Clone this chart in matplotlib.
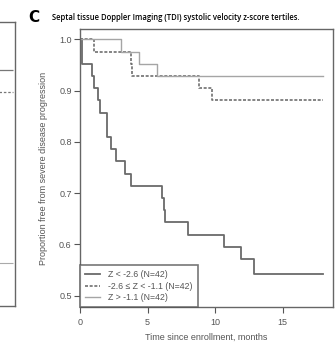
import matplotlib
matplotlib.use("Agg")
import matplotlib.pyplot as plt

# Kaplan-Meier steps (months, survival)
low_t = [0, 0.15, 0.9, 1.0, 1.33, 1.46, 1.97, 2.3, 2.64, 3.33, 3.78, 6.1, 6.2, 6.3, 8.0, 10.67, 11.9, 12.9, 18.0]
low_s = [1.0, 0.952, 0.929, 0.905, 0.881, 0.857, 0.810, 0.786, 0.762, 0.738, 0.714, 0.690, 0.667, 0.643, 0.619, 0.595, 0.571, 0.543, 0.543]

mid_t = [0, 1.06, 3.78, 3.85, 8.8, 9.75, 18.0]
mid_s = [1.0, 0.976, 0.952, 0.929, 0.905, 0.881, 0.881]

high_t = [0, 3.04, 4.37, 5.7, 18.0]
high_s = [1.0, 0.976, 0.952, 0.929, 0.929]

labels = ["Z < -2.6 (N=42)", "-2.6 \u2264 Z < -1.1 (N=42)", "Z > -1.1 (N=42)"]
x_ticks = [0, 5, 10, 15]
y_ticks = [0.5, 0.6, 0.7, 0.8, 0.9, 1.0]

# bits of the neighbouring panel B that show at the left edge
nb_levels = [0.83, 0.755, 0.15]

GREY = "#555555"
plt.rcParams["font.family"] = ["Liberation Sans", "DejaVu Sans"]

fig = plt.figure(figsize=(3.35, 3.43), dpi=100)
W, H = 335, 343

# neighbour panel strip
axn = fig.add_axes([-60 / W, 1 - 306 / H, 75 / W, (306 - 22) / H])
axn.set_xlim(0, 1)
axn.set_ylim(0, 1)
axn.hlines(nb_levels[0], 0.6, 0.97, color="#777777", lw=0.9)
axn.hlines(nb_levels[1], 0.6, 0.97, color="#777777", lw=0.9, linestyles=(0, (2, 1.5)))
axn.hlines(nb_levels[2], 0.6, 0.97, color="#aaaaaa", lw=0.8)
axn.set_xticks([])
axn.set_yticks([])
for sp in axn.spines.values():
    sp.set_color("#666666")
    sp.set_linewidth(1.0)

ax = fig.add_axes([80 / W, 1 - 307 / H, 253 / W, (307 - 29) / H])
ax.step(low_t, low_s, where="post", color="#6a6a6a", lw=1.3, label=labels[0])
ax.step(mid_t, mid_s, where="post", color="#6f6f6f", lw=1.2, ls=(0, (1.8, 1.0)), label=labels[1])
ax.step(high_t, high_s, where="post", color="#a5a5a5", lw=1.0, label=labels[2])

ax.set_xlim(0, 18.74)
ax.set_ylim(0.478, 1.02)
ax.set_xticks(x_ticks)
ax.set_yticks(y_ticks)
ax.set_yticklabels([f"{v:.1f}" for v in y_ticks])
ax.tick_params(colors=GREY, labelcolor=GREY, labelsize=6.5, length=4, width=0.8, pad=2)
ax.tick_params(axis="x", pad=4)
for sp in ax.spines.values():
    sp.set_color("#666666")
    sp.set_linewidth(1.0)

ax.set_xlabel("Time since enrollment, months", fontsize=6.5, color=GREY, labelpad=4)
ax.set_ylabel("Proportion free from severe disease progression", fontsize=6.5, color=GREY, labelpad=8)

leg = ax.legend(loc="lower left", bbox_to_anchor=(0, 0), borderaxespad=0, fontsize=6.3,
                frameon=True, fancybox=False, handlelength=1.7, handletextpad=0.9,
                labelspacing=0.25, borderpad=0.6, labelcolor=GREY)
leg.get_frame().set_edgecolor("#555555")
leg.get_frame().set_linewidth(1.2)

fig.text(28 / W, 1 - 18 / H, "C", fontsize=11, fontweight="bold", va="center", ha="left",
         family=["DejaVu Sans"])
fig.text(52 / W, 1 - 18 / H, "Septal tissue Doppler Imaging (TDI) systolic velocity z-score tertiles.",
         fontsize=5.5, va="center", ha="left", family=["Open Sans", "DejaVu Sans"], fontweight="semibold")

fig.savefig("out.png", dpi=100)
